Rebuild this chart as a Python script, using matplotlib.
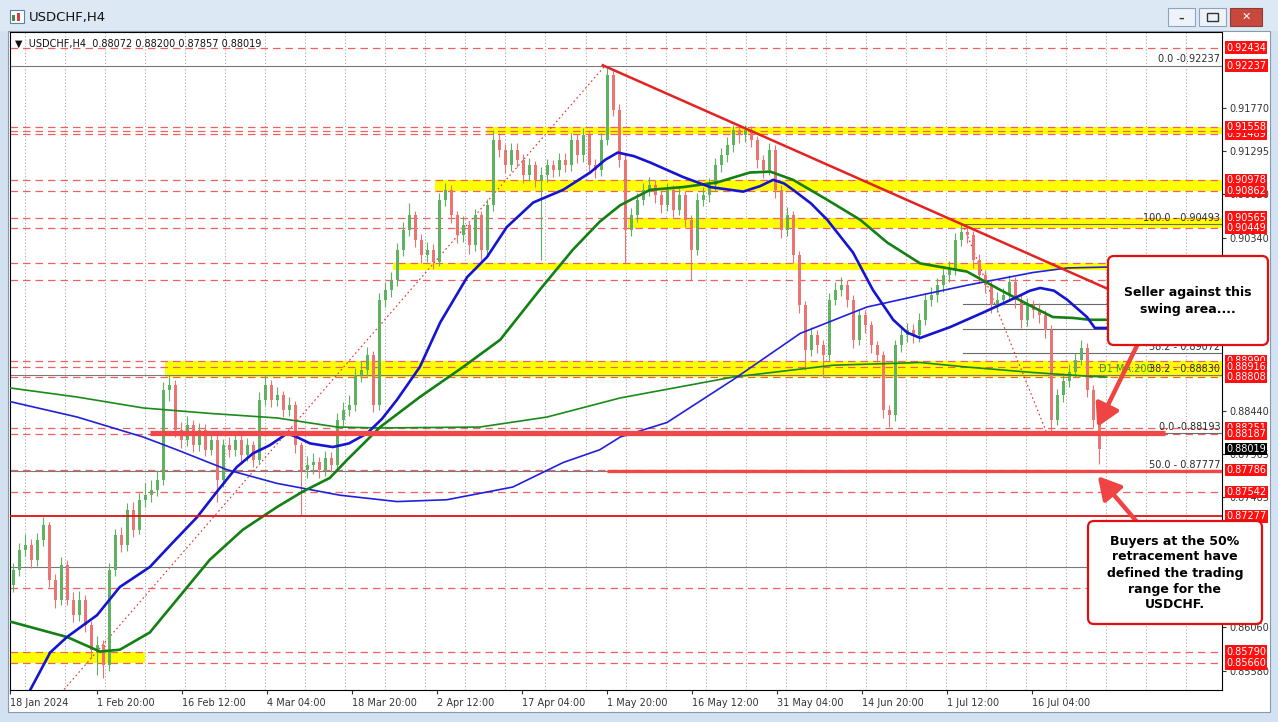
import numpy as np
import matplotlib
matplotlib.use("Agg")
import matplotlib.pyplot as plt
from matplotlib.patches import Rectangle, FancyBboxPatch
from matplotlib.transforms import IdentityTransform, blended_transform_factory

plt.rcParams['font.family'] = ['DejaVu Sans']

# ---------------- data ----------------
symbol = "USDCHF,H4"
header_ohlc = "0.88072 0.88200 0.87857 0.88019"
first_open = 0.8652
closes = [0.8669, 0.8691, 0.8696, 0.8680, 0.8702, 0.8718, 0.8658, 0.8636, 0.8674, 0.8636,
          0.8619, 0.8636, 0.8608, 0.8581, 0.8586, 0.8564, 0.8669, 0.8707, 0.8696, 0.8735,
          0.8713, 0.8746, 0.8751, 0.8757, 0.8768, 0.8867, 0.8872, 0.8823, 0.8812, 0.8828,
          0.8806, 0.8823, 0.8801, 0.8812, 0.8768, 0.8806, 0.8801, 0.8812, 0.8795, 0.8806,
          0.8790, 0.8856, 0.8872, 0.8856, 0.8861, 0.8845, 0.8850, 0.8806, 0.8779, 0.8784,
          0.8788, 0.8779, 0.8792, 0.8784, 0.8834, 0.8845, 0.8850, 0.8883, 0.8889, 0.8905,
          0.8850, 0.8966, 0.8977, 0.8988, 0.9021, 0.9043, 0.9059, 0.9032, 0.9015, 0.9021,
          0.9008, 0.9076, 0.9087, 0.9059, 0.9037, 0.9048, 0.9026, 0.9059, 0.9021, 0.9070,
          0.9142, 0.9131, 0.9114, 0.9131, 0.9120, 0.9103, 0.9114, 0.9098, 0.9103, 0.9114,
          0.9109, 0.9120, 0.9114, 0.9142, 0.9125, 0.9147, 0.9114, 0.9109, 0.9142, 0.9213,
          0.9175, 0.9120, 0.9043, 0.9059, 0.9076, 0.9087, 0.9092, 0.9081, 0.9070, 0.9087,
          0.9065, 0.9081, 0.9054, 0.9021, 0.9076, 0.9081, 0.9092, 0.9114, 0.9125, 0.9136,
          0.9153, 0.9147, 0.9153, 0.9142, 0.9120, 0.9109, 0.9131, 0.9087, 0.9043, 0.9059,
          0.9015, 0.8960, 0.8911, 0.8927, 0.8916, 0.8905, 0.8966, 0.8977, 0.8982, 0.8966,
          0.8922, 0.8949, 0.8938, 0.8916, 0.8905, 0.8845, 0.8839, 0.8916, 0.8927, 0.8933,
          0.8927, 0.8944, 0.8966, 0.8971, 0.8982, 0.8993, 0.8999, 0.9032, 0.9041, 0.9037,
          0.9010, 0.8993, 0.8982, 0.8960, 0.8966, 0.8971, 0.8986, 0.8966, 0.8944, 0.8960,
          0.8955, 0.8949, 0.8933, 0.8834, 0.8861, 0.8877, 0.8887, 0.8900, 0.8913, 0.8867,
          0.8834, 0.88019]
highs = [0.8676, 0.8698, 0.8708, 0.8703, 0.8709, 0.8727, 0.8722, 0.8664, 0.8683, 0.8680,
         0.8645, 0.8646, 0.8641, 0.8613, 0.8596, 0.8592, 0.8676, 0.8714, 0.8716, 0.8742,
         0.8744, 0.8753, 0.8764, 0.8768, 0.8779, 0.8876, 0.8883, 0.8878, 0.8831, 0.8838,
         0.8834, 0.8830, 0.8829, 0.8821, 0.8818, 0.8813, 0.8815, 0.8820, 0.8818, 0.8814,
         0.8811, 0.8864, 0.8883, 0.8878, 0.8870, 0.8866, 0.8859, 0.8855, 0.8810, 0.8794,
         0.8797, 0.8793, 0.8800, 0.8798, 0.8841, 0.8853, 0.8861, 0.8891, 0.8899, 0.8914,
         0.8910, 0.8974, 0.8986, 0.8997, 0.9029, 0.9052, 0.9073, 0.9064, 0.9038, 0.9030,
         0.9027, 0.9083, 0.9094, 0.9092, 0.9064, 0.9058, 0.9053, 0.9066, 0.9064, 0.9077,
         0.9153, 0.9150, 0.9137, 0.9139, 0.9138, 0.9126, 0.9122, 0.9119, 0.9112, 0.9121,
         0.9120, 0.9128, 0.9127, 0.9150, 0.9148, 0.9155, 0.9152, 0.9121, 0.9150, 0.92237,
         0.9220, 0.9181, 0.9126, 0.9067, 0.9084, 0.9095, 0.9101, 0.9098, 0.9086, 0.9094,
         0.9092, 0.9089, 0.9086, 0.9059, 0.9083, 0.9090, 0.9100, 0.9122, 0.9133, 0.9145,
         0.9158, 0.9158, 0.9158, 0.9157, 0.9146, 0.9125, 0.9139, 0.9136, 0.9092, 0.9068,
         0.9064, 0.9020, 0.8965, 0.8936, 0.8933, 0.8922, 0.8973, 0.8986, 0.8991, 0.8988,
         0.8971, 0.8956, 0.8955, 0.8943, 0.8921, 0.8910, 0.8850, 0.8922, 0.8935, 0.8941,
         0.8939, 0.8951, 0.8973, 0.8980, 0.8990, 0.9001, 0.9009, 0.9040, 0.90493, 0.9047,
         0.9042, 0.9016, 0.8999, 0.8987, 0.8975, 0.8979, 0.8993, 0.8991, 0.8971, 0.8968,
         0.8966, 0.8962, 0.8955, 0.8938, 0.8868, 0.8885, 0.8895, 0.8908, 0.8922, 0.8918,
         0.8872, 0.8840]
lows = [0.8645, 0.8662, 0.8684, 0.8671, 0.8673, 0.8695, 0.8650, 0.8627, 0.8630, 0.8630,
        0.8612, 0.8613, 0.8601, 0.8572, 0.8553, 0.8550, 0.8558, 0.8662, 0.8688, 0.8690,
        0.8705, 0.8708, 0.8738, 0.8744, 0.8750, 0.8762, 0.8855, 0.8815, 0.8803, 0.8805,
        0.8798, 0.8800, 0.8794, 0.8795, 0.8743, 0.8760, 0.8793, 0.8794, 0.8787, 0.8789,
        0.8782, 0.8785, 0.8850, 0.8848, 0.8849, 0.8837, 0.8838, 0.8797, 0.8729, 0.8770,
        0.8774, 0.8770, 0.8772, 0.8776, 0.8779, 0.8827, 0.8838, 0.8844, 0.8876, 0.8882,
        0.8842, 0.8845, 0.8958, 0.8969, 0.8981, 0.9014, 0.9036, 0.9024, 0.9006, 0.9008,
        0.9000, 0.9003, 0.9069, 0.9051, 0.9028, 0.9030, 0.9016, 0.9020, 0.9010, 0.9015,
        0.9064, 0.9123, 0.9106, 0.9108, 0.9112, 0.9095, 0.9097, 0.9090, 0.9010, 0.9096,
        0.9101, 0.9102, 0.9107, 0.9108, 0.9117, 0.9118, 0.9106, 0.9100, 0.9102, 0.9136,
        0.9168, 0.9112, 0.9007, 0.9036, 0.9052, 0.9070, 0.9080, 0.9073, 0.9062, 0.9064,
        0.9057, 0.9059, 0.9046, 0.8988, 0.9015, 0.9069, 0.9074, 0.9086, 0.9107, 0.9118,
        0.9129, 0.9139, 0.9140, 0.9134, 0.9111, 0.9100, 0.9103, 0.9078, 0.9034, 0.9036,
        0.9006, 0.8951, 0.8889, 0.8904, 0.8907, 0.8881, 0.8899, 0.8960, 0.8970, 0.8958,
        0.8913, 0.8916, 0.8930, 0.8908, 0.8897, 0.8836, 0.8826, 0.8833, 0.8909, 0.8920,
        0.8919, 0.8920, 0.8938, 0.8959, 0.8964, 0.8975, 0.8986, 0.8993, 0.9025, 0.9028,
        0.9001, 0.8985, 0.8974, 0.8951, 0.8953, 0.8960, 0.8965, 0.8957, 0.8935, 0.8937,
        0.8946, 0.8940, 0.8924, 0.88193, 0.8828, 0.8854, 0.8870, 0.8881, 0.8894, 0.8859,
        0.8825, 0.87857]

# moving averages (slot, price)
ma_blue_x = [2.0, 6.2, 9.0, 14.0, 17.8, 22.8, 26.5, 30.7, 34.0, 37.3, 40.0, 42.8, 45.7, 47.3,
             49.5, 53.3, 56.0, 59.0, 61.5, 64.0, 67.8, 71.2, 75.7, 79.0, 82.3, 86.7, 91.7,
             96.2, 98.7, 100.8, 103.5, 106.2, 111.7, 116.2, 121.7, 124.5, 126.7, 128.5, 130.0,
             133.0, 135.7, 140.0, 143.3, 146.7, 149.0, 151.2, 156.2, 161.7, 167.3, 169.5,
             171.2, 173.5, 175.7, 179.0, 180.3, 182.3]
ma_blue_y = [0.8526, 0.8578, 0.8595, 0.8619, 0.8650, 0.8672, 0.8698, 0.8727, 0.8755, 0.8782,
             0.8797, 0.8806, 0.8819, 0.8815, 0.8808, 0.8804, 0.8808, 0.8819, 0.8835, 0.8856,
             0.8892, 0.8941, 0.8991, 0.9013, 0.9046, 0.9073, 0.9087, 0.9106, 0.9120, 0.9128,
             0.9124, 0.9117, 0.9101, 0.9090, 0.9085, 0.9091, 0.9098, 0.9094, 0.9087, 0.9072,
             0.9054, 0.9018, 0.8977, 0.8944, 0.8930, 0.8924, 0.8936, 0.8952, 0.8969, 0.8976,
             0.8979, 0.8976, 0.8966, 0.8947, 0.8935, 0.8935]
ma_green_x = [-0.5, 9.0, 14.5, 17.8, 22.8, 27.3, 32.8, 38.3, 44.0, 48.3, 52.8, 55.7, 61.2,
              67.8, 75.0, 81.2, 87.8, 93.3, 97.8, 101.2, 106.2, 111.7, 117.3, 122.8, 126.2,
              130.0, 135.7, 141.2, 145.7, 151.2, 159.0, 164.5, 170.0, 173.3, 176.7, 179.5, 182.3]
ma_green_y = [0.8612, 0.8595, 0.8579, 0.8581, 0.8600, 0.8636, 0.8680, 0.8713, 0.8738, 0.8755,
              0.8770, 0.8790, 0.8826, 0.8859, 0.8892, 0.8922, 0.8977, 0.9021, 0.9052, 0.9070,
              0.9087, 0.9090, 0.9095, 0.9106, 0.9107, 0.9098, 0.9076, 0.9054, 0.9029, 0.9006,
              0.8997, 0.8977, 0.8958, 0.8947, 0.8946, 0.8944, 0.8944]
d1_blue_x = [-0.5, 10.7, 21.7, 27.3, 35.7, 44.0, 54.5, 64.0, 72.3, 83.3, 91.7, 97.8, 101.2,
             109.0, 120.0, 131.2, 142.3, 151.2, 159.0, 170.0, 175.7, 182.3]
d1_blue_y = [0.8854, 0.8837, 0.8815, 0.8801, 0.8779, 0.8764, 0.8751, 0.8744, 0.8746, 0.8760,
             0.8787, 0.8801, 0.8815, 0.8831, 0.8878, 0.8929, 0.8958, 0.8971, 0.8982, 0.8996,
             0.9001, 0.9002]
d1_green_x = [-0.5, 10.7, 21.7, 32.8, 44.0, 54.0, 61.2, 77.8, 89.0, 101.2, 120.0, 136.7,
              151.2, 159.0, 170.0, 179.0, 182.3]
d1_green_y = [0.8869, 0.8859, 0.8847, 0.8841, 0.8836, 0.8826, 0.8825, 0.8826, 0.8837, 0.8858,
              0.8881, 0.8894, 0.8897, 0.8892, 0.8886, 0.8882, 0.8881]

# horizontal levels
dashed_levels = [0.92434, 0.91558, 0.91520, 0.91489, 0.90978, 0.90862, 0.90565, 0.90449,
                 0.90065, 0.89878, 0.88990, 0.88916, 0.88808, 0.88251, 0.88187, 0.87786,
                 0.87542, 0.86490, 0.85790, 0.85660]
band_lo = [0.91489, 0.90862, 0.90449, 0.89988, 0.88808, 0.85660]
band_hi = [0.91558, 0.90978, 0.90565, 0.90065, 0.88990, 0.85790]
band_x0 = [79.0, 70.3, 102.5, 63.3, 25.3, -0.5]
band_x1 = [201.5, 201.5, 201.5, 201.5, 201.5, 22.0]

fib1_levels = [0.92237, 0.88830, 0.87777, 0.86725]
fib1_labels = ["0.0 -0.92237", "38.2 - 0.88830", "50.0 - 0.87777", ""]
fib1_anchor_x = [-18.5, 98.7]
fib1_anchor_y = [0.83318, 0.92237]
fib2_levels = [0.90493, 0.89614, 0.89343, 0.89072, 0.88193]
fib2_labels = ["100.0 - 0.90493", "", "", "38.2 - 0.89072", "0.0 -0.88193"]
fib2_anchor_x = [158.3, 172.3]
fib2_anchor_y = [0.90493, 0.88193]

trend_x = [98.3, 182.8]
trend_y = [0.9224, 0.8977]
support_level = 0.88193
support_x = [22.8, 192.0]
fifty_level = 0.87777
fifty_x = [99.0, 201.5]
low_line_level = 0.87277

red_labels = [0.92434, 0.92237, 0.91489, 0.91558, 0.90978, 0.90862, 0.90565, 0.90449,
              0.88990, 0.88916, 0.88808, 0.88251, 0.88187, 0.87786, 0.87542, 0.87277,
              0.85790, 0.85660]
last_price = 0.88019
price_ticks = [0.91770, 0.91295, 0.90820, 0.90340, 0.88440, 0.87965, 0.87485,
               0.86060, 0.85580]
date_labels = ["18 Jan 2024", "1 Feb 20:00", "16 Feb 12:00", "4 Mar 04:00", "18 Mar 20:00",
               "2 Apr 12:00", "17 Apr 04:00", "1 May 20:00", "16 May 12:00", "31 May 04:00",
               "14 Jun 20:00", "1 Jul 12:00", "16 Jul 04:00"]
date_slots = [-0.5, 14.0, 28.2, 42.3, 56.5, 70.7, 84.8, 99.0, 113.2, 127.3, 141.5, 155.7, 169.8]

callout1 = "Seller against this\nswing area...."
callout2 = "Buyers at the 50%\nretracement have\ndefined the trading\nrange for the\nUSDCHF."

# ---------------- figure / window chrome ----------------
W, H = 1278, 722
fig = plt.figure(figsize=(W / 100, H / 100), dpi=100)
fig.patch.set_facecolor('#d3e2f2')
ID = IdentityTransform()


def rect(x, y, w, h, **kw):
    r = Rectangle((x, H - y - h), w, h, transform=ID, **kw)
    fig.add_artist(r)
    return r


rect(0, 0, W, 31, fc='#dde8f5', ec='none', zorder=0)
rect(10, 10, 14, 13, fc='#ffffff', ec='#5d7fa8', lw=0.8, zorder=1)
rect(12, 15, 3, 6, fc='#4a8a4a', ec='none', zorder=2)
rect(17, 13, 3, 8, fc='#d04040', ec='none', zorder=2)
fig.text(29, H - 18, symbol, transform=ID, fontsize=9.5, color='#111111', va='center')
rect(1168, 8, 27, 18, fc='#eef3fa', ec='#8da3bd', lw=0.8, zorder=1)
rect(1199, 8, 27, 18, fc='#eef3fa', ec='#8da3bd', lw=0.8, zorder=1)
rect(1230, 8, 32, 18, fc='#c8483e', ec='#8d3b36', lw=0.8, zorder=1)
fig.text(1181.5, H - 19, "–", transform=ID, fontsize=8, color='#333333', ha='center', va='center', fontweight='bold')
rect(1207, 13, 11, 8, fc='none', ec='#333333', lw=1.0, zorder=2)
fig.text(1246, H - 17, "✕", transform=ID, fontsize=8, color='white', ha='center', va='center')
rect(8, 31, 1262, 681, fc='white', ec='#8a98a8', lw=0.8, zorder=0)

# ---------------- chart axes ----------------
ax = fig.add_axes([10 / W, 1 - 690 / H, (1222 - 10) / W, (690 - 32) / H])
ax.set_facecolor('white')
ax.set_xlim(-0.5, 201.5)
ax.set_ylim(0.85367, 0.92606)
for s in ax.spines.values():
    s.set_color('#000000')
    s.set_linewidth(0.8)

# vertical dotted grid
for gx in np.arange(2.0, 201.5, 6.673):
    ax.axvline(gx, color='#a8a8a8', lw=0.8, ls=(0, (1, 2)), zorder=0.5)

# yellow bands
for lo, hi, x0, x1 in zip(band_lo, band_hi, band_x0, band_x1):
    ax.fill_between([x0, x1], lo, hi, color='#ffff00', lw=0, zorder=1)

# dashed red levels
for lv in dashed_levels:
    ax.axhline(lv, color='#f06060', lw=0.9, ls=(0, (6, 4)), zorder=2)

# fibonacci lines
for lv in fib1_levels:
    ax.axhline(lv, color='#7a7a7a', lw=0.8, zorder=2)
for lv in fib2_levels:
    ax.plot([fib2_anchor_x[0], 201.5], [lv, lv], color='#6a6a6a', lw=0.8, zorder=2)
ax.plot(fib1_anchor_x, fib1_anchor_y, color='#e03030', lw=0.8, ls=(0, (1.5, 2.5)), zorder=2)
ax.plot(fib2_anchor_x, fib2_anchor_y, color='#e03030', lw=0.8, ls=(0, (1.5, 2.5)), zorder=2)

# candles
c = np.array(closes)
o = np.concatenate([[first_open], c[:-1]])
x = np.arange(len(c))
up = c >= o
cols = np.where(up, '#5fb25f', '#ec7572')
ax.vlines(x, lows, highs, colors=cols, lw=0.8, zorder=3)
ax.bar(x, np.maximum(np.abs(c - o), 0.00004), bottom=np.minimum(o, c), width=0.5,
       color=cols, lw=0, zorder=3)

# moving averages
ax.plot(d1_green_x, d1_green_y, color='#1a8a1a', lw=1.2, zorder=4)
ax.plot(d1_blue_x, d1_blue_y, color='#2020dd', lw=1.2, zorder=4)
ax.plot(ma_green_x, ma_green_y, color='#128012', lw=1.9, zorder=4, solid_joinstyle='round')
ax.plot(ma_blue_x, ma_blue_y, color='#1414d2', lw=1.9, zorder=4, solid_joinstyle='round')

# red lines
ax.plot(trend_x, trend_y, color='#e32222', lw=1.8, zorder=5)
ax.plot(support_x, [support_level, support_level], color='#f04848', lw=3.8, zorder=5,
        solid_capstyle='butt')
ax.plot(fifty_x, [fifty_level, fifty_level], color='#f04848', lw=2.4, zorder=5,
        solid_capstyle='butt')
ax.axhline(low_line_level, color='#e01010', lw=1.3, zorder=5)

# fib labels
for lv, lb in zip(fib1_levels + fib2_levels, fib1_labels + fib2_labels):
    if lb:
        ax.text(201.2, lv + 0.00012, lb, fontsize=7, color='#2a2a2a', ha='right', va='bottom', zorder=6)
ax.text(181.0, 0.88845, "D1 MA:200", fontsize=7, color='#2a9a2a', ha='left', va='bottom', zorder=5.5)

# header
ax.text(0.004, 0.99, "▼  " + symbol + "  " + header_ohlc, transform=ax.transAxes,
        fontsize=7, color='#111111', ha='left', va='top', zorder=6)

# axes ticks
ax.yaxis.tick_right()
ax.set_yticks(price_ticks)
ax.set_yticklabels([f"{t:.5f}" for t in price_ticks])
ax.tick_params(axis='y', labelsize=7, labelcolor='#333333', length=3, width=0.8, pad=2, color='#333333')
ax.set_xticks(date_slots)
ax.set_xticklabels(date_labels, ha='left')
ax.tick_params(axis='x', labelsize=7, labelcolor='#333333', length=3, width=0.8, pad=3, color='#333333')

# right price labels
bt = blended_transform_factory(ax.transAxes, ax.transData)
for lv in red_labels:
    ax.text(1.0035, lv, f"{lv:.5f}", transform=bt, fontsize=7, color='white', ha='left', va='center',
            bbox=dict(boxstyle='square,pad=0.12', fc='#ff1010', ec='none'), clip_on=False, zorder=10)
ax.text(1.0035, last_price, f"{last_price:.5f}", transform=bt, fontsize=7, color='white', ha='left',
        va='center', bbox=dict(boxstyle='square,pad=0.12', fc='#000000', ec='none'), clip_on=False, zorder=11)

# arrows
arrow_kw = dict(arrowstyle='-|>,head_length=0.75,head_width=0.42', color='#f04444', lw=3.2,
                mutation_scale=18, shrinkA=0, shrinkB=0)
ax.annotate('', xy=(180.7, 0.8826), xytext=(187.8, 0.8922), arrowprops=arrow_kw,
            annotation_clip=False, zorder=20)
ax.annotate('', xy=(180.8, 0.8772), xytext=(187.8, 0.8718), arrowprops=arrow_kw,
            annotation_clip=False, zorder=20)

# callout boxes (figure level, above the axes)
b1 = FancyBboxPatch((1108, H - 345), 160, 89, boxstyle='round,pad=0,rounding_size=6',
                    fc='white', ec='#e01010', lw=1.6, transform=ID, zorder=30)
fig.add_artist(b1)
fig.text(1188, H - 301, callout1, transform=ID, fontsize=9, fontweight='bold', color='#000000',
         ha='center', va='center', linespacing=1.35, zorder=31)
b2 = FancyBboxPatch((1088, H - 624), 174, 103, boxstyle='round,pad=0,rounding_size=6',
                    fc='white', ec='#e01010', lw=1.6, transform=ID, zorder=30)
fig.add_artist(b2)
fig.text(1175, H - 573, callout2, transform=ID, fontsize=9, fontweight='bold', color='#000000',
         ha='center', va='center', linespacing=1.3, zorder=31)

fig.savefig("out.png", dpi=100, facecolor=fig.get_facecolor())
